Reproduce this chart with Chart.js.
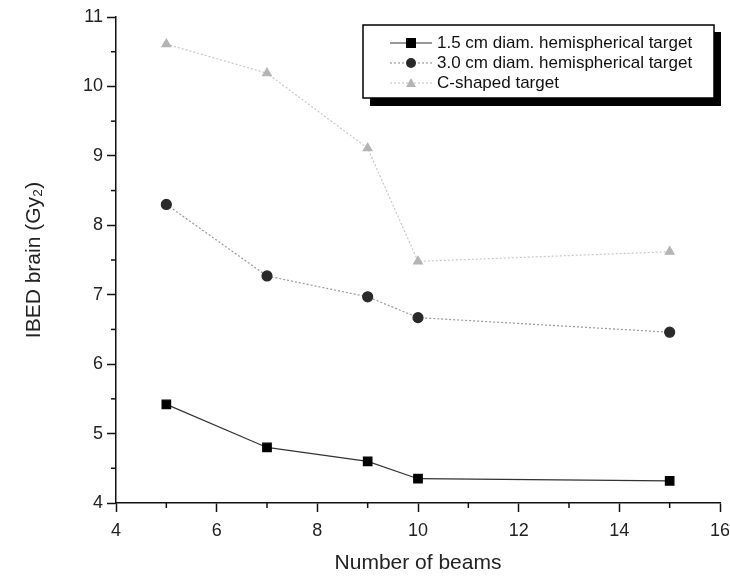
<!DOCTYPE html>
<html>
<head>
<meta charset="utf-8">
<script src="https://cdn.jsdelivr.net/npm/chart.js@4"></script>
<style>
  body { margin: 0; background: #fff; }
  #wrap { width: 730px; height: 576px; }
</style>
</head>
<body>
<div id="wrap"><canvas id="myChart" width="730" height="576"></canvas></div>
<script>
const beams = [5, 7, 9, 10, 15];
const small = [5.42, 4.80, 4.60, 4.35, 4.32];
const large = [8.30, 7.27, 6.97, 6.67, 6.46];
const cShaped = [10.61, 10.19, 9.11, 7.48, 7.62];
const seriesNames = [
  '1.5 cm diam. hemispherical target',
  '3.0 cm diam. hemispherical target',
  'C-shaped target'
];
const xTicks = [4, 6, 8, 10, 12, 14, 16];
const yTicks = [4, 5, 6, 7, 8, 9, 10, 11];

const font = 'Liberation Sans, Arial, sans-serif';
const pts = (ys) => beams.map((x, i) => ({ x: x, y: ys[i] }));

// minor ticks (odd beams, half units) + boxed legend with drop shadow
const extras = {
  id: 'extras',
  afterDraw(chart) {
    const ctx = chart.ctx;
    const xs = chart.scales.x, ys = chart.scales.y;
    ctx.save();
    ctx.strokeStyle = '#111';
    ctx.lineWidth = 1.5;
    for (let v = 5; v < 16; v += 2) {
      const px = xs.getPixelForValue(v);
      ctx.beginPath();
      ctx.moveTo(px, ys.bottom);
      ctx.lineTo(px, ys.bottom + 5);
      ctx.stroke();
    }
    for (let v = 4.5; v < 11; v += 1) {
      const py = ys.getPixelForValue(v);
      ctx.beginPath();
      ctx.moveTo(xs.left, py);
      ctx.lineTo(xs.left - 5, py);
      ctx.stroke();
    }

    const bx = 363, by = 25, bw = 351, bh = 73;
    ctx.fillStyle = '#000';
    ctx.fillRect(bx + 7, by + bh, bw, 8);
    ctx.fillRect(bx + bw, by + 7, 7, bh);
    ctx.fillStyle = '#fff';
    ctx.fillRect(bx, by, bw, bh);
    ctx.strokeStyle = '#000';
    ctx.lineWidth = 1.5;
    ctx.strokeRect(bx, by, bw, bh);

    ctx.font = '17px ' + font;
    ctx.textBaseline = 'middle';
    chart.data.datasets.forEach((ds, i) => {
      const y = by + 18 + i * 20;
      ctx.strokeStyle = ds.borderColor;
      ctx.lineWidth = ds.borderWidth;
      ctx.setLineDash(ds.borderDash || []);
      ctx.beginPath();
      ctx.moveTo(bx + 27, y);
      ctx.lineTo(bx + 69, y);
      ctx.stroke();
      ctx.setLineDash([]);
      const cx = bx + 48;
      ctx.fillStyle = ds.pointBackgroundColor;
      if (ds.pointStyle === 'rect') {
        ctx.fillRect(cx - 5, y - 5, 10, 10);
      } else if (ds.pointStyle === 'circle') {
        ctx.beginPath();
        ctx.arc(cx, y, 5, 0, Math.PI * 2);
        ctx.fill();
      } else {
        ctx.beginPath();
        ctx.moveTo(cx, y - 5);
        ctx.lineTo(cx + 5, y + 4);
        ctx.lineTo(cx - 5, y + 4);
        ctx.closePath();
        ctx.fill();
      }
      ctx.fillStyle = '#111';
      ctx.fillText(ds.label, bx + 74, y);
    });
    ctx.restore();
  }
};

new Chart('myChart', {
  type: 'line',
  data: {
    datasets: [{
      label: seriesNames[0],
      data: pts(small),
      borderColor: '#333',
      borderWidth: 1.2,
      pointStyle: 'rect',
      pointRadius: 6,
      pointBackgroundColor: '#000',
      pointBorderColor: '#000'
    }, {
      label: seriesNames[1],
      data: pts(large),
      borderColor: '#999',
      borderWidth: 1.2,
      borderDash: [2, 2],
      pointStyle: 'circle',
      pointRadius: 5,
      pointBackgroundColor: '#2a2a2a',
      pointBorderColor: '#2a2a2a'
    }, {
      label: seriesNames[2],
      data: pts(cShaped),
      borderColor: '#c8c8c8',
      borderWidth: 1.2,
      borderDash: [2, 2],
      pointStyle: 'triangle',
      pointRadius: 5,
      pointBackgroundColor: '#b4b4b4',
      pointBorderColor: '#b4b4b4'
    }]
  },
  options: {
    responsive: false,
    animation: false,
    layout: { padding: { top: 17, right: 0, left: 18, bottom: 0 } },
    plugins: {
      legend: { display: false },
      tooltip: { enabled: false }
    },
    scales: {
      x: {
        type: 'linear',
        min: 4, max: 16,
        afterBuildTicks: (s) => { s.ticks = xTicks.map(v => ({ value: v })); },
        afterFit: (s) => { s.height = 73; s.paddingRight = 10; s.paddingLeft = 0; },
        border: { color: '#111', width: 1.5 },
        grid: { drawOnChartArea: false, tickLength: 9, tickColor: '#111', tickWidth: 1.5 },
        ticks: { color: '#222', font: { family: font, size: 18 }, padding: 8, maxRotation: 0 },
        title: { display: true, text: 'Number of beams', color: '#222', font: { family: font, size: 21 }, padding: { top: 4, bottom: 0 } }
      },
      y: {
        type: 'linear',
        min: 4, max: 11,
        afterBuildTicks: (s) => { s.ticks = yTicks.map(v => ({ value: v })); },
        afterFit: (s) => { s.width = 98; },
        border: { color: '#111', width: 1.5 },
        grid: { drawOnChartArea: false, tickLength: 9, tickColor: '#111', tickWidth: 1.5 },
        ticks: { color: '#222', font: { family: font, size: 18 }, padding: 4 },
        title: { display: true, text: 'IBED brain (Gy₂)', color: '#222', font: { family: font, size: 21 }, padding: { bottom: 4 } }
      }
    }
  },
  plugins: [extras]
});
</script>
</body>
</html>
